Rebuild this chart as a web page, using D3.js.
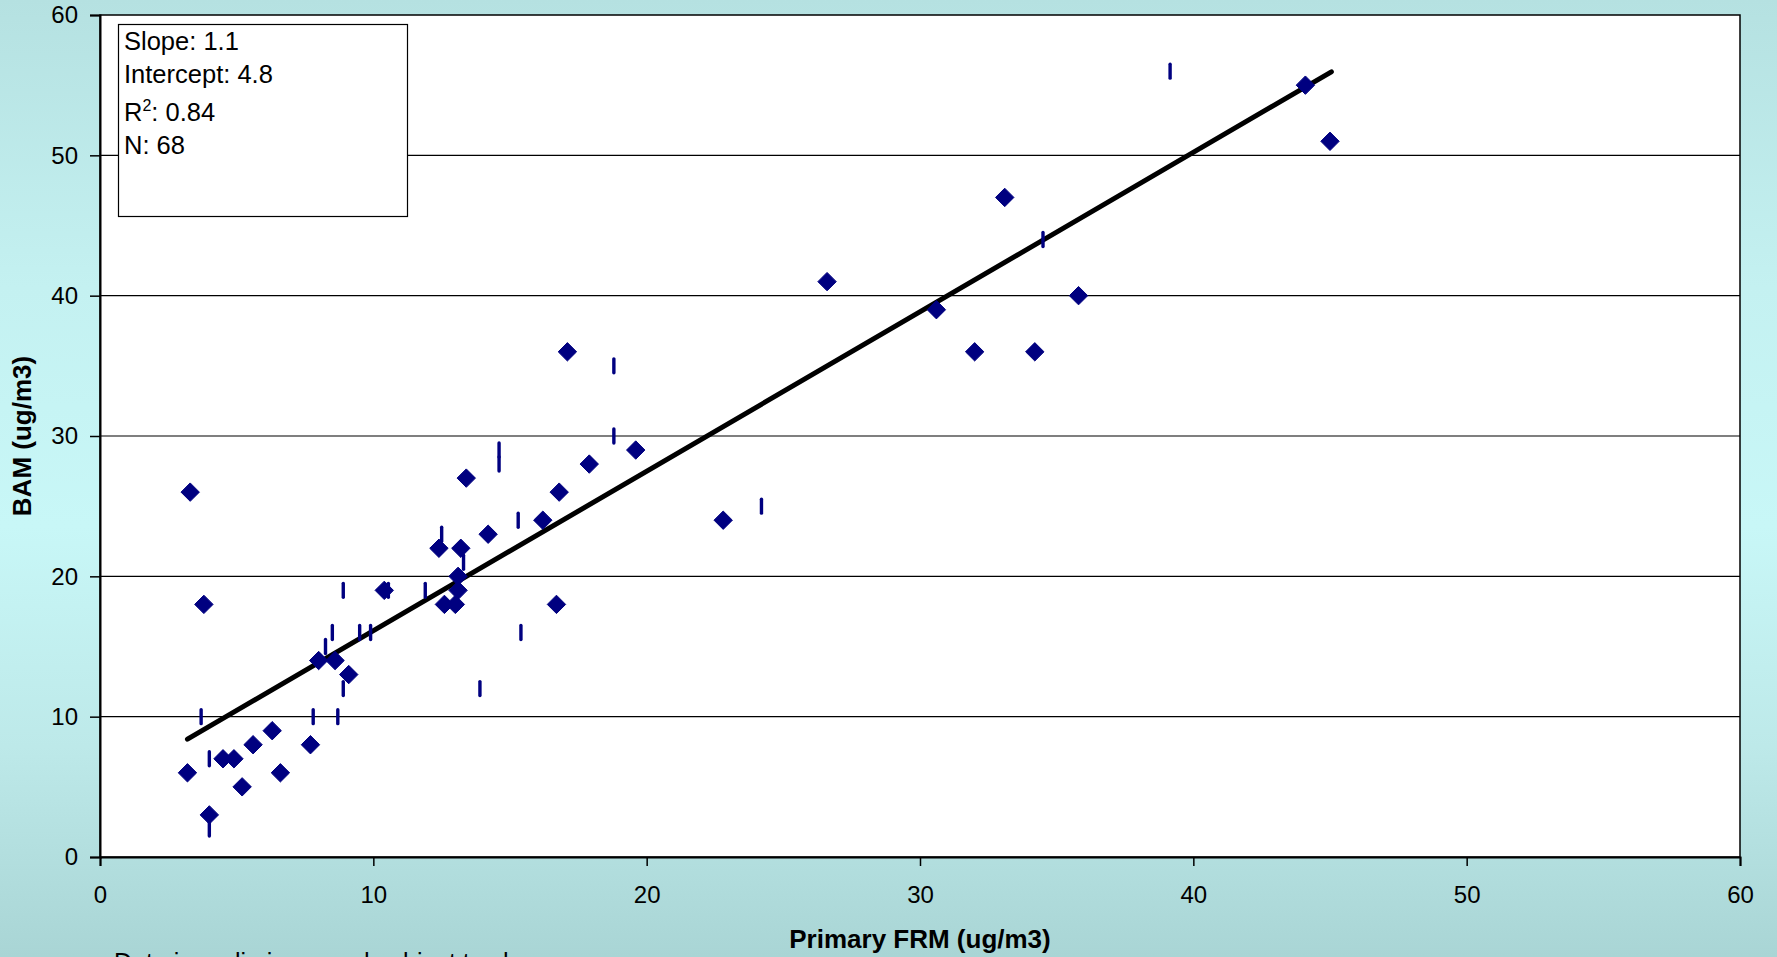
<!DOCTYPE html>
<html>
<head>
<meta charset="utf-8">
<script src="https://cdn.jsdelivr.net/npm/d3@7"></script>
<style>
  html, body { margin: 0; padding: 0; overflow: hidden; }
  svg { display: block; font-family: "Liberation Sans", Arial, sans-serif; }
</style>
</head>
<body>
<script>
// ---- data ----
const diamondX = [3.3, 3.8, 3.2, 4.0, 4.5, 4.9, 5.2, 5.6, 6.3, 6.6, 7.7, 8.0, 8.6, 9.1, 10.4, 12.4, 12.6, 13.0, 13.1, 13.1,
                  13.2, 13.4, 14.2, 16.2, 16.7, 16.8, 17.1, 17.9, 19.6, 22.8, 26.6, 30.6, 32.0, 33.1, 34.2, 35.8, 44.1, 45.0];
const diamondY = [26, 18, 6, 3, 7, 7, 5, 8, 9, 6, 8, 14, 14, 13, 19, 22, 18, 18, 20, 19,
                  22, 27, 23, 24, 18, 26, 36, 28, 29, 24, 41, 39, 36, 47, 36, 40, 55, 51];
const dashX = [39.15, 34.5, 18.8, 18.8, 14.6, 14.6, 24.2, 15.3, 12.5, 13.3, 8.9, 10.55, 11.9, 8.5, 9.5, 9.9, 15.4, 8.25, 8.9, 13.9, 3.7, 7.8, 8.7, 4.0, 4.0];
const dashY = [56, 44, 35, 30, 29, 28, 25, 24, 23, 21, 19, 19, 19, 16, 16, 16, 16, 15, 12, 12, 10, 10, 10, 7, 2];
const trendX = [3.2, 45.05];
const trendY = [8.4, 55.95];
const xTicks = [0, 10, 20, 30, 40, 50, 60];
const yTicks = [0, 10, 20, 30, 40, 50, 60];
const statsLines = [["Slope: 1.1"], ["Intercept: 4.8"], ["R", "2", ": 0.84"], ["N: 68"]];
const xTitle = "Primary FRM (ug/m3)";
const yTitle = "BAM (ug/m3)";
const noteText = "Data is preliminary and subject to change";

// ---- layout ----
const W = 1777, H = 957;
const plot = { left: 100, top: 15, right: 1740, bottom: 857 };
const navy = "#000080";

const svg = d3.select("body").append("svg").attr("width", W).attr("height", H);
const defs = svg.append("defs");
const grad = defs.append("linearGradient").attr("id", "bg").attr("x1", 0).attr("y1", 0).attr("x2", 0).attr("y2", 1);
[["0%", "#b5e1e1"], ["30%", "#c4f1f1"], ["55%", "#c8f7f7"], ["78%", "#bde9e9"], ["100%", "#a9d5d5"]]
  .forEach(([o, c]) => grad.append("stop").attr("offset", o).attr("stop-color", c));
svg.append("rect").attr("width", W).attr("height", H).attr("fill", "url(#bg)");

const x = d3.scaleLinear().domain([0, 60]).range([plot.left, plot.right]);
const y = d3.scaleLinear().domain([0, 60]).range([plot.bottom, plot.top]);

// plot area
svg.append("rect").attr("x", plot.left).attr("y", plot.top)
  .attr("width", plot.right - plot.left).attr("height", plot.bottom - plot.top)
  .attr("fill", "#fff").attr("stroke", "#000").attr("stroke-width", 1.5);

// gridlines
svg.append("g").selectAll("line").data(yTicks.filter(d => d > 0 && d < 60)).join("line")
  .attr("x1", plot.left).attr("x2", plot.right)
  .attr("y1", d => y(d)).attr("y2", d => y(d))
  .attr("stroke", "#000").attr("stroke-width", 1.2);

// axes
const xAxis = svg.append("g").attr("transform", `translate(0,${plot.bottom})`)
  .call(d3.axisBottom(x).tickValues(xTicks).tickSize(9).tickPadding(20).tickFormat(d3.format("d")));
const yAxis = svg.append("g").attr("transform", `translate(${plot.left},0)`)
  .call(d3.axisLeft(y).tickValues(yTicks).tickSize(10).tickPadding(12).tickFormat(d3.format("d")));
[xAxis, yAxis].forEach(a => {
  a.select(".domain").attr("stroke", "#000").attr("stroke-width", 2);
  a.selectAll(".tick line").attr("stroke", "#000").attr("stroke-width", 1.5);
  a.selectAll(".tick text").attr("fill", "#000").attr("font-size", 24)
    .attr("font-family", "'Liberation Sans', Arial, sans-serif");
});

// trend line
svg.append("path")
  .datum(trendX.map((d, i) => [d, trendY[i]]))
  .attr("d", d3.line().x(d => x(d[0])).y(d => y(d[1])))
  .attr("fill", "none").attr("stroke", "#000").attr("stroke-width", 5).attr("stroke-linecap", "round");

// dash series
const dashHalf = 7;
svg.append("g").selectAll("line").data(dashX.map((d, i) => [d, dashY[i]])).join("line")
  .attr("x1", d => x(d[0])).attr("x2", d => x(d[0]))
  .attr("y1", d => y(d[1]) - dashHalf).attr("y2", d => y(d[1]) + dashHalf)
  .attr("stroke", navy).attr("stroke-width", 3.4).attr("stroke-linecap", "round");

// diamond series
const r = 9.2;
svg.append("g").selectAll("path").data(diamondX.map((d, i) => [d, diamondY[i]])).join("path")
  .attr("transform", d => `translate(${x(d[0])},${y(d[1])})`)
  .attr("d", `M0,${-r}L${r},0L0,${r}L${-r},0Z`)
  .attr("fill", navy).attr("stroke", navy).attr("stroke-width", 1).attr("stroke-linejoin", "round");

// stats box
const box = svg.append("g");
box.append("rect").attr("x", 118.5).attr("y", 24.5).attr("width", 289).attr("height", 192)
  .attr("fill", "#fff").attr("stroke", "#000").attr("stroke-width", 1.2);
const lineY = [50, 83, 121, 154];
statsLines.forEach((parts, i) => {
  const t = box.append("text").attr("x", 124).attr("y", lineY[i]).attr("font-size", 25.5).attr("fill", "#000");
  if (parts.length === 1) t.text(parts[0]);
  else {
    t.append("tspan").text(parts[0]);
    t.append("tspan").attr("dy", -10).attr("font-size", 16).text(parts[1]);
    t.append("tspan").attr("dy", 10).text(parts[2]);
  }
});

// axis titles
svg.append("text").attr("x", (plot.left + plot.right) / 2).attr("y", 948)
  .attr("text-anchor", "middle").attr("font-weight", "bold").attr("font-size", 26).attr("fill", "#000")
  .text(xTitle);
svg.append("text").attr("transform", `translate(31,${(plot.top + plot.bottom) / 2}) rotate(-90)`)
  .attr("text-anchor", "middle").attr("font-weight", "bold").attr("font-size", 26).attr("fill", "#000")
  .text(yTitle);

// note (cut off at bottom edge, as in the source)
svg.append("text").attr("x", 114).attr("y", 971).attr("font-size", 25).attr("fill", "#000").text(noteText);
</script>
</body>
</html>
